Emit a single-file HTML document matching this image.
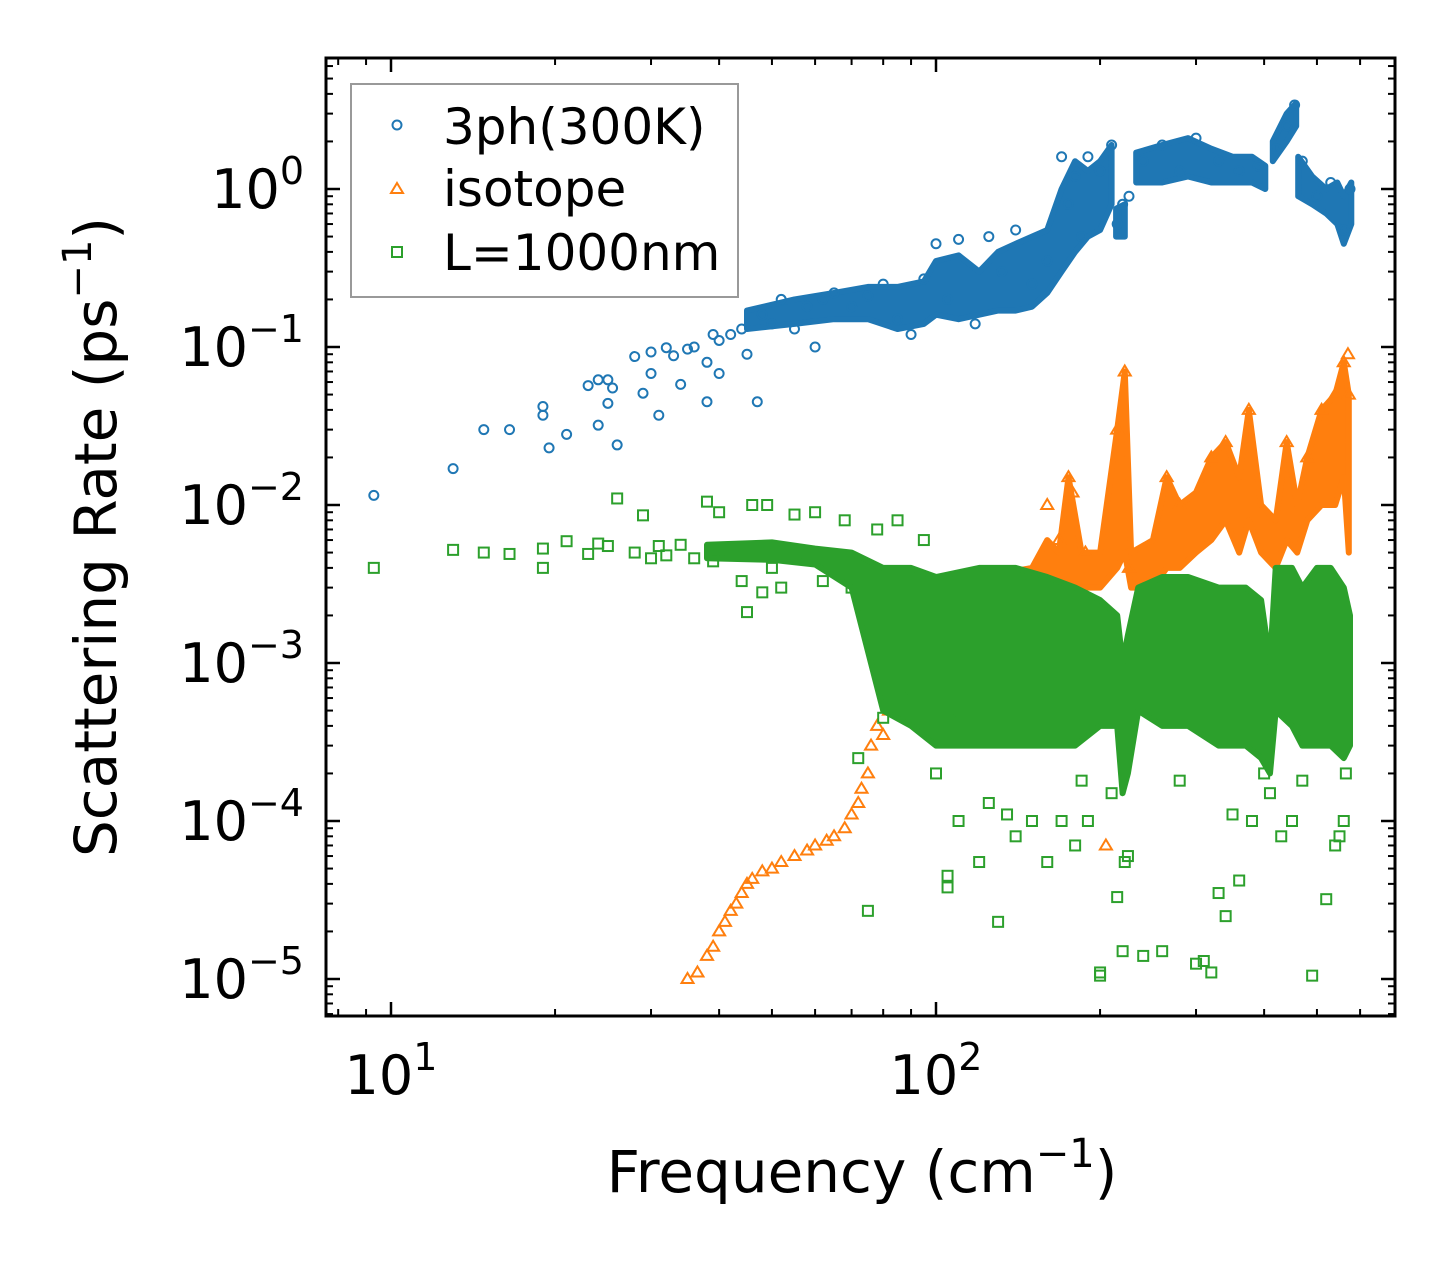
<!DOCTYPE html>
<html><head><meta charset="utf-8"><style>
html,body{margin:0;padding:0;background:#fff;}
svg{display:block;font-family:"DejaVu Sans","Liberation Sans",sans-serif;}
</style></head><body>
<svg id="chart" width="1455" height="1265" viewBox="0 0 1455 1265" xmlns="http://www.w3.org/2000/svg">
<rect width="1455" height="1265" fill="#fff"/>
<g id="marks"></g>
<g id="axes"></g>
<text x="862" y="1192" font-size="58" text-anchor="middle">Frequency (cm<tspan font-size="40" dy="-25">−1</tspan><tspan dy="25">)</tspan></text>
<text transform="translate(116,537) rotate(-90)" font-size="58" text-anchor="middle">Scattering Rate (ps<tspan font-size="40" dy="-25">−1</tspan><tspan dy="25">)</tspan></text>
<g>
<rect x="351" y="84" width="387" height="213" fill="#fff" stroke="#999" stroke-width="2"/>
<circle cx="397" cy="125" r="4.5" fill="none" stroke="#1f77b4" stroke-width="2"/>
<text x="443" y="144" font-size="50">3ph(300K)</text>
<path d="M397,183 L403,193 L391,193 Z" fill="none" stroke="#ff7f0e" stroke-width="2"/>
<text x="443" y="206" font-size="50">isotope</text>
<rect x="392" y="247" width="10" height="10" fill="none" stroke="#2ca02c" stroke-width="2"/>
<text x="443" y="270" font-size="50">L=1000nm</text>
</g>
</svg>
<script>
// ---- data ----
const blueFreq=[9.3,13,14.8,16.5,19,19,19.5,21,23,24,24,25,25,25.5,26,28,29,30,30,31,32,33,34,35,36,38,38,39,40,40,42,44,45,47,48,50,52,55,58,60,62,65,70,75,80,85,90,95,100,105,110,118,125,132,140,150,160,170,175,180,185,190,200,210,215,220,226,240,260,280,300,330,360,390,420,440,455,470,500,530,560,575];
const blueRate=[0.0115,0.017,0.030,0.030,0.042,0.037,0.023,0.028,0.057,0.062,0.032,0.062,0.044,0.055,0.024,0.087,0.051,0.093,0.068,0.037,0.099,0.088,0.058,0.097,0.10,0.045,0.08,0.12,0.068,0.11,0.12,0.13,0.09,0.045,0.16,0.14,0.2,0.13,0.18,0.1,0.2,0.22,0.18,0.21,0.25,0.15,0.12,0.27,0.45,0.2,0.48,0.14,0.5,0.3,0.55,0.25,0.35,1.6,0.8,1.2,0.5,1.6,1.3,1.9,0.6,0.8,0.9,1.5,1.9,1.3,2.1,1.5,1.3,1.4,1.8,2.5,3.4,1.5,0.9,1.1,0.55,1.0];
const blueBandF=[45,55,65,75,85,95,100,110,120,130,140,150,160,170,180,190,200,210,null,214,222,null,233,260,290,320,350,380,402,null,415,440,458,null,462,490,520,545,560,578];
const blueBandLo=[0.13,0.14,0.15,0.15,0.13,0.14,0.16,0.15,0.16,0.17,0.17,0.18,0.22,0.30,0.40,0.50,0.55,0.80,null,0.5,0.5,null,1.1,1.1,1.2,1.1,1.1,1.1,1.0,null,1.5,2.0,2.5,null,0.9,0.8,0.7,0.6,0.45,0.6];
const blueBandHi=[0.17,0.20,0.22,0.24,0.24,0.26,0.35,0.38,0.30,0.40,0.45,0.50,0.55,1.0,1.5,1.3,1.5,1.9,null,0.75,0.8,null,1.7,1.9,2.1,1.8,1.6,1.6,1.4,null,2.0,3.0,3.5,null,1.6,1.2,1.0,1.1,0.9,1.1];

const orangeFreq=[35,36.5,38,39,40,41,42,43,44,45,46,48,50,52,55,58,60,63,65,68,70,72,73,75,76,78,80,82,85,88,90,92,95,160,168,175,178,188,205,215,222,226,265,280,320,340,375,440,480,510,540,560,570,572];
const orangeRate=[1e-5,1.1e-5,1.4e-5,1.6e-5,2e-5,2.3e-5,2.7e-5,3e-5,3.5e-5,4e-5,4.3e-5,4.8e-5,5e-5,5.5e-5,6e-5,6.5e-5,7e-5,7.5e-5,8e-5,9e-5,1.1e-4,1.3e-4,1.6e-4,2e-4,3e-4,4e-4,3.5e-4,5e-4,6e-4,5e-4,8e-4,1e-3,1.3e-3,1.0e-2,6e-3,1.5e-2,1.2e-2,5e-3,7e-5,3e-2,7e-2,4e-3,1.5e-2,1e-2,2e-2,2.5e-2,4e-2,2.5e-2,2e-2,4e-2,5e-2,8e-2,9e-2,5e-2];
const orangeBandF=[95,150,160,168,175,185,200,215,222,228,250,265,280,300,320,340,360,375,395,420,440,460,480,510,540,560,572];
const orangeBandLo=[1e-3,2e-3,3e-3,3e-3,3e-3,3e-3,3e-3,4e-3,5e-3,3e-3,3e-3,4e-3,4e-3,5e-3,6e-3,8e-3,5e-3,8e-3,5e-3,4e-3,6e-3,5e-3,8e-3,1e-2,1e-2,1.5e-2,5e-3];
const orangeBandHi=[3e-3,4e-3,6e-3,5e-3,1.5e-2,5e-3,5e-3,3e-2,7e-2,5e-3,6e-3,1.5e-2,1e-2,1.2e-2,2e-2,2.5e-2,1.5e-2,4e-2,1e-2,8e-3,2.5e-2,1e-2,2e-2,4e-2,5e-2,8e-2,5e-2];

const greenFreq=[9.3,13,14.8,16.5,19,19,21,23,24,25,26,28,29,30,31,32,34,36,38,39,40,42,44,45,46,48,49,50,52,55,58,60,62,65,68,70,72,75,78,80,85,90,95,100,105,105,106,110,120,125,130,135,140,150,160,170,180,185,190,200,200,210,215,220,222,225,240,260,280,300,310,320,330,340,350,360,380,400,410,430,450,470,490,520,540,550,560,565];
const greenRate=[4e-3,5.2e-3,5e-3,4.9e-3,5.3e-3,4e-3,5.9e-3,4.9e-3,5.7e-3,5.5e-3,1.1e-2,5e-3,8.6e-3,4.6e-3,5.5e-3,4.8e-3,5.6e-3,4.6e-3,1.05e-2,4.4e-3,9e-3,5e-3,3.3e-3,2.1e-3,1.0e-2,2.8e-3,1.0e-2,4e-3,3e-3,8.7e-3,5e-3,9e-3,3.3e-3,4e-3,8e-3,3e-3,2.5e-4,2.7e-5,7e-3,4.5e-4,8e-3,6e-4,6e-3,2e-4,3.8e-5,4.5e-5,5e-4,1e-4,5.5e-5,1.3e-4,2.3e-5,1.1e-4,8e-5,1e-4,5.5e-5,1e-4,7e-5,1.8e-4,1e-4,1.05e-5,1.1e-5,1.5e-4,3.3e-5,1.5e-5,5.5e-5,6e-5,1.4e-5,1.5e-5,1.8e-4,1.25e-5,1.3e-5,1.1e-5,3.5e-5,2.5e-5,1.1e-4,4.2e-5,1e-4,2e-4,1.5e-4,8e-5,1e-4,1.8e-4,1.05e-5,3.2e-5,7e-5,8e-5,1e-4,2e-4];
const greenBandF=[38,50,60,70,80,90,100,120,140,160,180,200,215,220,225,235,260,290,330,370,395,410,420,450,470,500,530,560,575];
const greenBandLo=[4.6e-3,4.5e-3,4.2e-3,3e-3,5e-4,4e-4,3e-4,3e-4,3e-4,3e-4,3e-4,4e-4,4e-4,1.5e-4,2e-4,5e-4,4e-4,4e-4,3e-4,3e-4,2.5e-4,2e-4,5e-4,4e-4,3e-4,3e-4,3e-4,2.5e-4,3e-4];
const greenBandHi=[5.6e-3,5.8e-3,5.3e-3,5e-3,4e-3,4e-3,3.5e-3,4e-3,4e-3,3.5e-3,3e-3,2.5e-3,2e-3,1e-3,1.5e-3,3e-3,3.5e-3,3.5e-3,3e-3,3e-3,2.5e-3,1e-3,4e-3,4e-3,3e-3,4e-3,4e-3,3e-3,2e-3];

const xTickVals=[10,100];
const yTickExps=[0,-1,-2,-3,-4,-5];

// ---- geometry ----
const L=326,R=1395,T=58,B=1016;
const X0=391,XDEC=545;
const Y0=189,YDEC=158;
const sx=f=>X0+XDEC*(Math.log10(f)-1);
const sy=v=>Y0-YDEC*Math.log10(v);
const NS="http://www.w3.org/2000/svg";
const marks=document.getElementById('marks');
const axes=document.getElementById('axes');
function mk(tag,attrs,parent){const e=document.createElementNS(NS,tag);for(const k in attrs)e.setAttribute(k,attrs[k]);parent.appendChild(e);return e;}

const clip=mk('clipPath',{id:'pc'},marks);mk('rect',{x:L,y:T,width:R-L,height:B-T},clip);
const plot=mk('g',{'clip-path':'url(#pc)'},marks);

function band(F,lo,hi,color,name){
  let seg=[];const segs=[];
  for(let i=0;i<F.length;i++){if(F[i]===null){segs.push(seg);seg=[];}else seg.push(i);}
  segs.push(seg);
  segs.forEach(s=>{
    if(!s.length)return;
    let d='';
    s.forEach((i,j)=>{d+=(j?'L':'M')+sx(F[i]).toFixed(1)+','+sy(hi[i]).toFixed(1);});
    s.slice().reverse().forEach(i=>{d+='L'+sx(F[i]).toFixed(1)+','+sy(lo[i]).toFixed(1);});
    const p=mk('path',{d:d+'Z',fill:color,stroke:color,'stroke-width':6,'stroke-linejoin':'round'},plot);
    
    
  });
}
function circles(F,V,name){
  F.forEach((f,i)=>{const c=mk('circle',{cx:sx(f),cy:sy(V[i]),r:4.5,fill:'none',stroke:'#1f77b4','stroke-width':2},plot);
    
    });
}
function tris(F,V,name){
  F.forEach((f,i)=>{const x=sx(f),y=sy(V[i]);const p=mk('path',{d:`M${x},${y-6}L${x+6},${y+4}L${x-6},${y+4}Z`,fill:'none',stroke:'#ff7f0e','stroke-width':2},plot);
    
    });
}
function squares(F,V,name){
  F.forEach((f,i)=>{const r=mk('rect',{x:sx(f)-5,y:sy(V[i])-5,width:10,height:10,fill:'none',stroke:'#2ca02c','stroke-width':2},plot);
    
    });
}
band(blueBandF,blueBandLo,blueBandHi,'#1f77b4','3ph-dense-band');
circles(blueFreq,blueRate,'3ph-point');
band(orangeBandF,orangeBandLo,orangeBandHi,'#ff7f0e','isotope-dense-band');
tris(orangeFreq,orangeRate,'isotope-point');
band(greenBandF,greenBandLo,greenBandHi,'#2ca02c','boundary-dense-band');
squares(greenFreq,greenRate,'boundary-point');

// ---- axes ----
const frame=mk('rect',{x:L,y:T,width:R-L,height:B-T,fill:'none',stroke:'#000','stroke-width':3},axes);


function tick(x1,y1,x2,y2,w){mk('line',{x1,y1,x2,y2,stroke:'#000','stroke-width':w},axes);}
for(let d=0;d<=2;d++){for(let m=1;m<=9;m++){const f=m*Math.pow(10,d);const x=sx(f);if(x<L||x>R)continue;const len=m===1?14:7,w=m===1?2.5:2;tick(x,B,x,B-len,w);tick(x,T,x,T+len,w);}}
for(let e=-6;e<=0;e++){for(let m=1;m<=9;m++){const v=m*Math.pow(10,e);const y=sy(v);if(y<T||y>B)continue;const len=m===1?14:7,w=m===1?2.5:2;tick(L,y,L+len,y,w);tick(R,y,R-len,y,w);}}
xTickVals.forEach(v=>{const e=Math.round(Math.log10(v));const t=mk('text',{x:sx(v),y:1094,'font-size':54,'text-anchor':'middle'},axes);
  
  
  t.innerHTML=`10<tspan font-size="38" dy="-24">${e}</tspan>`;});
yTickExps.forEach(e=>{const t=mk('text',{x:304,y:sy(Math.pow(10,e))+19,'font-size':54,'text-anchor':'end'},axes);
  
  
  t.innerHTML=`10<tspan font-size="38" dy="-24">${e<0?'−'+(-e):e}</tspan>`;});
</script>
</body></html>
